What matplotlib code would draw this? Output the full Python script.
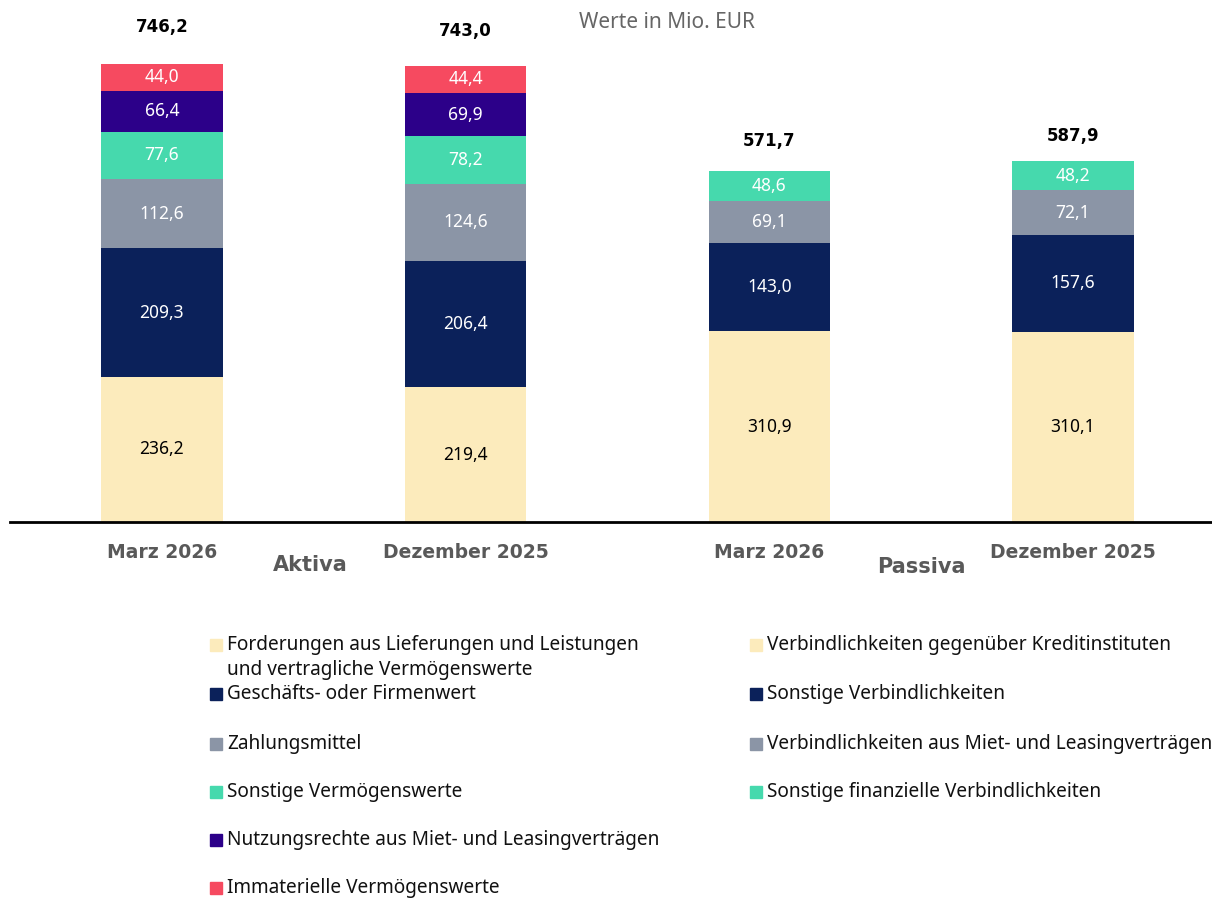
import matplotlib.pyplot as plt
from matplotlib.patches import Rectangle
import numpy as np

# bars: Aktiva Marz 2026, Aktiva Dez 2025, Passiva Marz 2026, Passiva Dez 2025
bar_names = ['Marz 2026', 'Dezember 2025', 'Marz 2026', 'Dezember 2025']
totals = ['746,2', '743,0', '571,7', '587,9']
total_values = [746.2, 743.0, 571.7, 587.9]

# segments bottom -> top; 0 where the segment does not exist
seg1 = [236.2, 219.4, 310.9, 310.1]   # cream
seg2 = [209.3, 206.4, 143.0, 157.6]   # navy
seg3 = [112.6, 124.6, 69.1, 72.1]     # gray
seg4 = [77.6, 78.2, 48.6, 48.2]       # teal
seg5 = [66.4, 69.9, 0, 0]             # purple
seg6 = [44.0, 44.4, 0, 0]             # red
segments = [seg1, seg2, seg3, seg4, seg5, seg6]

colors = ['#FCEBBC', '#0B215A', '#8B95A6', '#46D9AD', '#2C0089', '#F64A60']
text_colors = ['black', 'white', 'white', 'white', 'white', 'white']

legend_aktiva = ['Forderungen aus Lieferungen und Leistungen\nund vertragliche Vermögenswerte',
                 'Geschäfts- oder Firmenwert',
                 'Zahlungsmittel',
                 'Sonstige Vermögenswerte',
                 'Nutzungsrechte aus Miet- und Leasingverträgen',
                 'Immaterielle Vermögenswerte']
legend_passiva = ['Verbindlichkeiten gegenüber Kreditinstituten',
                  'Sonstige Verbindlichkeiten',
                  'Verbindlichkeiten aus Miet- und Leasingverträgen',
                  'Sonstige finanzielle Verbindlichkeiten']

plt.rcParams['font.family'] = ['Noto Sans', 'DejaVu Sans']

W, H = 1212, 898
fig = plt.figure(figsize=(W/100, H/100), dpi=100)
ax = fig.add_axes([10/W, 1-522/H, 1-10/W, 522/H])

x = np.arange(4)
bottom = np.zeros(4)
for vals, c, tc in zip(segments, colors, text_colors):
    vals = np.array(vals)
    ax.bar(x, vals, 0.40, bottom=bottom, color=c, edgecolor='none')
    for xi, v, b in zip(x, vals, bottom):
        if v > 0:
            ax.text(xi, b + v/2, ('%.1f' % v).replace('.', ','), ha='center', va='center',
                    color=tc, fontsize=12.5)
    bottom = bottom + vals

# gap between bar top and total label differs a bit per bar in the original
total_gap = [60, 57, 49, 40]
for xi, t, tv, g in zip(x, totals, total_values, total_gap):
    ax.text(xi, tv + g, t, ha='center', va='center', fontsize=12,
            fontweight='bold', family='DejaVu Sans', color='black')

ax.set_xlim(-0.5, -0.5 + 1202/303.7)
ax.set_ylim(0, 850)
for s in ['top', 'right', 'left']:
    ax.spines[s].set_visible(False)
ax.spines['bottom'].set_linewidth(2)
ax.set_yticks([])
ax.set_xticks([])

# category labels
for xi, n in zip(x, bar_names):
    ax.text(xi, -50, n, ha='center', va='center', fontsize=13.5, fontweight='bold',
            family='DejaVu Sans', color='#595959')
ax.text(0.49, -70, 'Aktiva', ha='center', va='center', fontsize=15, fontweight='bold',
        family='DejaVu Sans', color='#595959')
ax.text(2.50, -74, 'Passiva', ha='center', va='center', fontsize=15, fontweight='bold',
        family='DejaVu Sans', color='#595959')

fig.text(667/W, 1-23/H, 'Werte in Mio. EUR', ha='center', va='center', fontsize=15,
         color='#666666')

# legend drawn by hand (two columns)
row_y = [645, 694, 744, 792, 840, 888]
sq = 12
for col_x, labels, cols in [(210, legend_aktiva, colors), (750, legend_passiva, colors)]:
    for lab, c, ry in zip(labels, cols, row_y):
        fig.patches.append(Rectangle((col_x/W, 1-(ry+sq/2)/H), sq/W, sq/H,
                                     transform=fig.transFigure, color=c))
        fig.text((col_x+17)/W, 1-(ry-10)/H, lab, ha='left', va='top', fontsize=13.7,
                 color='#111111', linespacing=1.3)

plt.savefig('out.png', dpi=100)
